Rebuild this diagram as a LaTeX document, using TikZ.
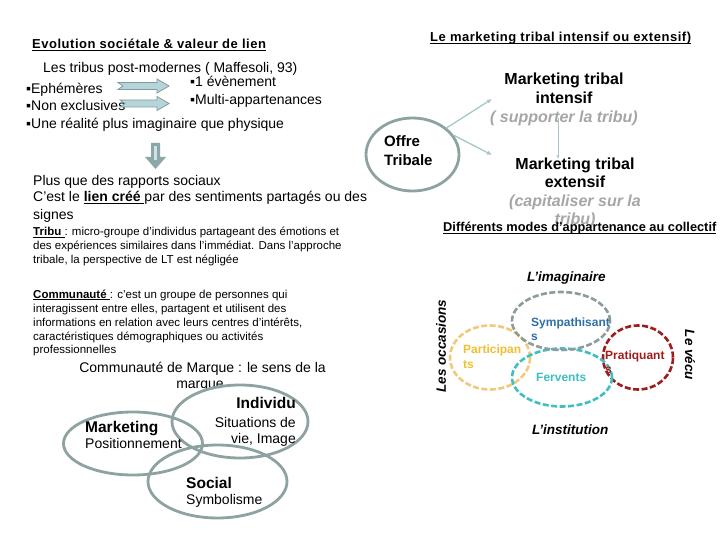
\documentclass[tikz,border=0pt]{standalone}
\usepackage{fontspec}
\setmainfont{Liberation Sans}
\usetikzlibrary{shapes.geometric,arrows.meta}
\definecolor{ellgray}{HTML}{8FA2A2}
\definecolor{conn}{HTML}{A8C6CA}
\definecolor{arrfill}{HTML}{B7D5D9}
\definecolor{arrline}{HTML}{7E9DA2}
\definecolor{downfill}{HTML}{8DA6AA}
\definecolor{downstripe}{HTML}{CFE3E5}
\definecolor{subgray}{HTML}{A6A6A6}
\definecolor{symgray}{HTML}{8C9C9C}
\definecolor{symtext}{HTML}{2F6FA5}
\definecolor{partell}{HTML}{F2C97A}
\definecolor{parttext}{HTML}{F0C030}
\definecolor{ferv}{HTML}{3FBFBF}
\definecolor{prat}{HTML}{A01C1C}
\newsavebox\ulbox
\newcommand\ulx[1]{\sbox\ulbox{#1}\rlap{\rule[-1.8pt]{\wd\ulbox}{0.9pt}}\usebox\ulbox}
\begin{document}
\begin{tikzpicture}[x=1pt,y=-1pt,
  every node/.style={inner sep=0pt},
  tl/.style={anchor=base west},
  tc/.style={anchor=base},
  tr/.style={anchor=base east},
  fbig/.style={font=\fontsize{14}{16}\selectfont},
  fsmall/.style={font=\fontsize{11.5}{13}\selectfont},
  ftitle/.style={font=\fontsize{13}{15}\selectfont\bfseries\addfontfeature{LetterSpace=4}},
  fmt/.style={font=\fontsize{16}{18}\selectfont\bfseries},
  fmtsub/.style={font=\fontsize{16}{18}\selectfont\bfseries\itshape, text=subgray},
  fvenn/.style={font=\fontsize{15.5}{17}\selectfont\bfseries},
  fside/.style={font=\fontsize{13.5}{15}\selectfont\bfseries\itshape},
  fgrp/.style={font=\fontsize{12}{14}\selectfont\bfseries},
  bigell/.style={ellipse, draw=ellgray, line width=2.8pt},
  dashell/.style={ellipse, line width=2.6pt, dash pattern=on 6pt off 2.5pt},
  conline/.style={draw=conn, line width=1.3pt, -{Latex[length=5pt,width=4.5pt]}}
]
\useasboundingbox[fill=white] (0,0) rectangle (720,540);

% ---------- top left ----------
\node[tl, ftitle] (evo) at (32,49) {\ulx{Evolution sociétale \& valeur de lien}};
\node[tl, fbig] (tribus) at (43,73) {Les tribus post-modernes ( Maffesoli, 93)};
\node[tl, fbig] (b1) at (26,94) {▪Ephémères};
\node[tl, fbig] (b2) at (26,111) {▪Non exclusives};
\node[tl, fbig] (b3) at (26,129) {▪Une réalité plus imaginaire que physique};
\node[tl, fbig] (r1) at (190,87) {▪1 évènement};
\node[tl, fbig] (r2) at (190,105) {▪Multi-appartenances};

% block arrows
\path[fill=arrfill, draw=arrline, line width=0.8pt]
  (118,82.5) -- (157,82.5) -- (157,79) -- (169,86) -- (157,93) -- (157,89.5) -- (118,89.5) -- (123,86) -- cycle;
\path[fill=arrfill, draw=arrline, line width=0.8pt]
  (120,100) -- (157,100) -- (157,96.5) -- (169,103.5) -- (157,110.5) -- (157,107) -- (120,107) -- (125,103.5) -- cycle;

% down arrow
\path[fill=downfill]
  (151,143) -- (160,143) -- (160,157) -- (166,157) -- (155.5,169) -- (145,157) -- (151,157) -- cycle;
\path[fill=downstripe] (154.3,146) rectangle (156.7,160);

\node[tl, fbig] (plus) at (33,186) {Plus que des rapports sociaux};
\node[tl, fbig] (cest) at (33,202) {C'est le \ulx{\bfseries lien créé }par des sentiments partagés ou des};
\node[tl, fbig] (signes) at (33,219) {signes};
\node[tl, fsmall] (tr1) at (33,236) {\ulx{\bfseries Tribu }: micro-groupe d'individus partageant des émotions et};
\node[tl, fsmall] (tr2) at (33,249.5) {des expériences similaires dans l'immédiat. Dans l'approche};
\node[tl, fsmall] (tr3) at (33,263) {tribale, la perspective de LT est négligée};

\node[tl, fsmall] (c1) at (33,298) {\ulx{\bfseries Communauté }: c'est un groupe de personnes qui};
\node[tl, fsmall] (c2) at (33,312) {interagissent entre elles, partagent et utilisent des};
\node[tl, fsmall] (c3) at (33,326) {informations en relation avec leurs centres d'intérêts,};
\node[tl, fsmall] (c4) at (33,340) {caractéristiques démographiques ou activités};
\node[tl, fsmall] (c5) at (33,353.5) {professionnelles};

\node[tc, fbig] (cm1) at (202.5,372) {Communauté de Marque : le sens de la};
\node[tc, fbig] (cm2) at (200,388) {marque};

% brand community venn
\node[bigell, minimum width=139pt, minimum height=63pt] (emkt) at (133,443.5) {};
\node[bigell, minimum width=136pt, minimum height=73pt] (eind) at (240,421.5) {};
\node[bigell, minimum width=139pt, minimum height=73pt] (esoc) at (217.5,481.5) {};
\node[tl, fvenn] (mkt) at (85,432) {Marketing};
\node[tl, fbig] (pos) at (85,448) {Positionnement};
\node[tr, fvenn] (ind) at (296,408) {Individu};
\node[tr, fbig] (sit) at (296,427) {Situations de};
\node[tr, fbig] (vie) at (296,443) {vie, Image};
\node[tl, fvenn] (soc) at (186,488) {Social};
\node[tl, fbig] (sym) at (186,504) {Symbolisme};

% ---------- top right ----------
\node[tl, ftitle] (ltitle) at (430,42) {\ulx{Le marketing tribal intensif ou extensif)}};

\node[bigell, minimum width=93pt, minimum height=73pt] (offre) at (412.5,154.5) {};
\node[tl, font=\fontsize{15}{17}\selectfont\bfseries] (off1) at (384,147) {Offre};
\node[tl, font=\fontsize{15}{17}\selectfont\bfseries] (off2) at (384,166) {Tribale};

\node[tc, fmt] (int1) at (564,85) {Marketing tribal};
\node[tc, fmt] (int2) at (564,104) {intensif};
\node[tc, fmtsub] (int3) at (564,123) {( supporter la tribu)};

\node[tc, fmt] (ext1) at (575,170) {Marketing tribal};
\node[tc, fmt] (ext2) at (575,188) {extensif};
\node[tc, fmtsub] (ext3) at (575,207) {(capitaliser sur la};
\node[tc, fmtsub] (ext4) at (575,224.5) {tribu)};

\coordinate (toint) at (492,99);
\coordinate (toext) at (492,155);
\coordinate (vtop) at (558,118);
\coordinate (vbot) at (558,159);
\draw[conline] (offre.38) -- (toint);
\draw[conline] (offre.25) -- (toext);
\draw[draw=conn, line width=1pt, -{Latex[length=3.5pt,width=3pt]}] (vtop) -- (vbot);

\node[tl, font=\fontsize{12.8}{15}\selectfont\bfseries] (diff) at (443,232) {\ulx{Différents modes d’appartenance au collectif}};

% ---------- bottom right venn ----------
\node[dashell, draw=partell, minimum width=80pt, minimum height=64pt] (epart) at (490,357.5) {};
\node[dashell, draw=prat, minimum width=70pt, minimum height=64pt] (eprat) at (638,357.5) {};
\node[dashell, draw=ferv, minimum width=100pt, minimum height=58pt] (eferv) at (562,377.5) {};
\node[dashell, draw=symgray, minimum width=98pt, minimum height=58pt] (esym) at (561,321) {};

\node[tl, fgrp, text=symtext] (sym1) at (531,326) {Sympathisant};
\node[tl, fgrp, text=symtext] (sym2) at (531,340) {s};
\node[tl, fgrp, text=parttext] (par1) at (463,353) {Participan};
\node[tl, fgrp, text=parttext] (par2) at (463,368) {ts};
\node[tl, fgrp, text=ferv] (fer) at (536,381) {Fervents};
\node[tl, fgrp, text=prat] (pra1) at (605,359) {Pratiquant};
\node[tl, fgrp, text=prat] (pra2) at (605,373) {s};

\node[tl, fside] (imag) at (527,281) {L’imaginaire};
\node[tl, fside] (inst) at (532,434) {L’institution};
\node[fside, rotate=90] (occ) at (441,346) {Les occasions};
\node[fside, rotate=-90] (vecu) at (690,355) {Le vécu};
\end{tikzpicture}
\end{document}
